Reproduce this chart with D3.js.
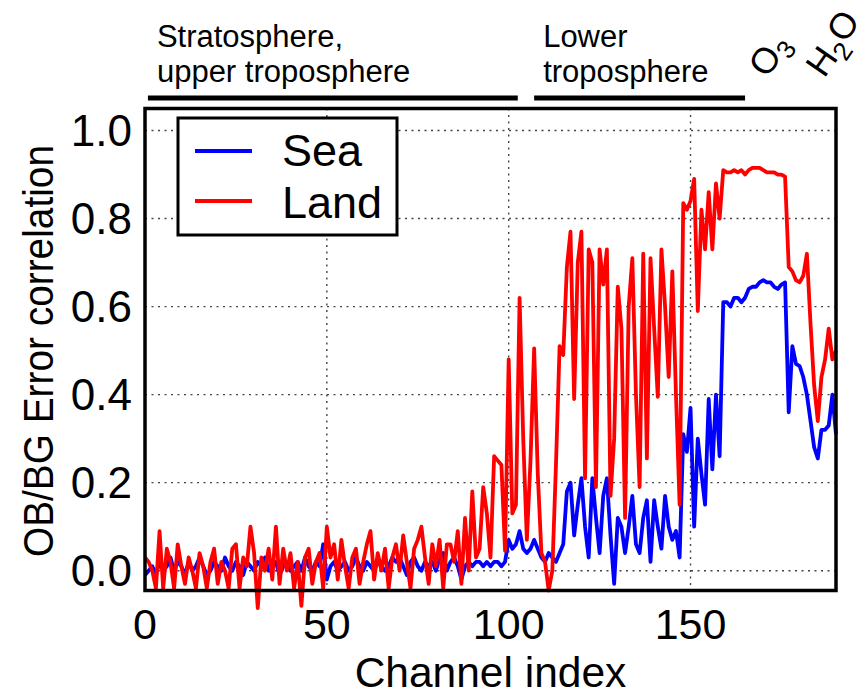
<!DOCTYPE html>
<html>
<head>
<meta charset="utf-8">
<script src="https://cdn.jsdelivr.net/npm/d3@7"></script>
<style>
  body { margin: 0; background: #fff; }
  text { font-family: "Liberation Sans", Arial, sans-serif; fill: #000; }
</style>
</head>
<body>
<script>
// channel index 0..190
let channels = d3.range(0, 191);

let sea = [
  -0.01, 0.0, 0.01, -0.01, 0.02, 0.0, 0.01, 0.03, 0.0, 0.02,
  0.01, -0.01, 0.02, 0.0, 0.01, 0.03, 0.01, -0.01, 0.0, 0.02,
  0.01, 0.0, 0.03, 0.01, 0.0, 0.02, 0.01, -0.01, 0.02, 0.01,
  0.0, 0.02, 0.01, 0.03, 0.0, 0.01, 0.02, -0.01, 0.01, 0.02,
  0.0, 0.01, 0.02, 0.0, 0.03, 0.01, 0.0, 0.02, 0.01, 0.06,
  -0.02, 0.01, 0.02, 0.0, 0.01, 0.02, 0.0, 0.01, 0.03, 0.01,
  0.0, 0.02, 0.01, 0.0, 0.02, 0.01, 0.0, 0.01, 0.03, 0.02,
  0.03, 0.01, -0.01, 0.02, 0.03, 0.01, 0.0, 0.02, 0.01, 0.02,
  0.0, 0.03, 0.04, 0.0, 0.02, 0.03, 0.01, -0.02, 0.01, 0.02,
  0.01, 0.02, 0.02, 0.01, 0.02, 0.01, 0.02, 0.02, 0.01, 0.02,
  0.07, 0.05, 0.06, 0.09, 0.05, 0.04, 0.05, 0.07, 0.05, 0.03,
  0.02, 0.04, 0.03, 0.02, 0.04, 0.06, 0.18, 0.20, 0.08, 0.15,
  0.21, 0.10, 0.03, 0.21, 0.12, 0.04, 0.17, 0.21, 0.08, -0.03,
  0.12, 0.10, 0.04, 0.10, 0.17, 0.06, 0.04, 0.12, 0.16, 0.02,
  0.16, 0.10, 0.05, 0.17, 0.10, 0.07, 0.09, 0.03, 0.31, 0.27,
  0.37, 0.10, 0.30, 0.22, 0.15, 0.39, 0.23, 0.40, 0.26, 0.61,
  0.61, 0.60, 0.62, 0.62, 0.61, 0.62, 0.64, 0.645, 0.645, 0.655,
  0.66, 0.655, 0.655, 0.645, 0.64, 0.65, 0.655, 0.36, 0.51, 0.47,
  0.465, 0.44, 0.40, 0.34, 0.28, 0.255, 0.32, 0.32, 0.33, 0.40,
  0.31
];

let land = [
  0.03, 0.02, 0.0, -0.04, 0.09, -0.04, 0.05, 0.02, -0.04, 0.06,
  0.01, -0.03, 0.03, 0.0, -0.04, 0.04, 0.01, -0.04, 0.02, 0.05,
  -0.03, 0.02, 0.0, -0.04, 0.05, 0.06, -0.04, 0.03, 0.01, 0.10,
  0.04, -0.085, 0.03, 0.0, 0.05, -0.02, 0.10, -0.03, 0.05, 0.0,
  0.04, -0.04, 0.02, -0.08, 0.03, 0.05, -0.03, 0.02, 0.04, -0.04,
  0.10, 0.03, 0.06, -0.02, 0.07, 0.01, -0.04, 0.03, 0.05, -0.03,
  0.02, 0.06, 0.09, -0.02, 0.04, 0.0, 0.05, -0.04, 0.03, 0.06,
  0.0, 0.08, 0.02, -0.04, 0.05, 0.07, 0.10, 0.03, -0.03, 0.06,
  0.01, 0.07, -0.04, 0.06, 0.06, 0.02, 0.09, -0.03, 0.12, 0.0,
  0.18, 0.03, 0.05, 0.19, 0.13, 0.03, 0.26, 0.25, 0.24, 0.045,
  0.48, 0.13, 0.15, 0.62, 0.30, 0.07, 0.25, 0.505, 0.22, 0.04,
  0.02, -0.045, 0.0, 0.24, 0.51, 0.49, 0.69, 0.77, 0.39, 0.70,
  0.77, 0.21, 0.73, 0.70, 0.19, 0.73, 0.65, 0.73, 0.17, 0.30,
  0.645, 0.55, 0.12, 0.60, 0.71, 0.40, 0.19, 0.72, 0.255, 0.71,
  0.55, 0.395, 0.73, 0.60, 0.44, 0.68, 0.40, 0.15, 0.835, 0.82,
  0.84, 0.89, 0.59, 0.82, 0.73, 0.86, 0.73, 0.88, 0.80, 0.91,
  0.905, 0.905, 0.91, 0.905, 0.91, 0.90, 0.91, 0.915, 0.915, 0.915,
  0.91, 0.905, 0.905, 0.905, 0.90, 0.90, 0.895, 0.69, 0.68, 0.66,
  0.655, 0.67, 0.72, 0.56, 0.42, 0.34, 0.44, 0.48, 0.55, 0.48,
  0.50
];

let xTicks = [0, 50, 100, 150];
let yTicks = [0.0, 0.2, 0.4, 0.6, 0.8, 1.0];

// bands drawn above the plot (channel ranges)
let bandNames = [["Stratosphere,", "upper troposphere"], ["Lower", "troposphere"]];
let bandFrom = [0.8, 107];
let bandTo = [102.5, 165];

// gas labels at the top right
let gasNames = [["O", "3"], ["H", "2", "O"]];
let gasAt = [171, 186.8];

let w = 867, h = 696;

let svg = d3.select('body')
    .append('svg')
    .attr('width', w)
    .attr('height', h);

let x = d3.scaleLinear()
    .domain([0, 190])
    .range([145, 836]);

let y = d3.scaleLinear()
    .domain([-0.045, 1.05])
    .range([590.5, 108.5]);

// grid
let grid = svg.append('g')
    .attr('stroke', '#444')
    .attr('stroke-width', 1.4)
    .attr('stroke-dasharray', '2,4.5');

grid.selectAll('.hg')
    .data(yTicks)
    .enter()
    .append('line')
    .attr('x1', x(0)).attr('x2', x(190))
    .attr('y1', d => y(d)).attr('y2', d => y(d));

grid.selectAll('.vg')
    .data(xTicks.filter(d => d > 0))
    .enter()
    .append('line')
    .attr('x1', d => x(d)).attr('x2', d => x(d))
    .attr('y1', y(1.05)).attr('y2', y(-0.045));

// lines
let line = d3.line()
    .x((d, i) => x(channels[i]))
    .y(d => y(d));

svg.append('path')
    .datum(sea)
    .attr('d', line)
    .attr('fill', 'none')
    .attr('stroke', '#0000ff')
    .attr('stroke-width', 3.8)
    .attr('stroke-linejoin', 'round');

svg.append('path')
    .datum(land)
    .attr('d', line)
    .attr('fill', 'none')
    .attr('stroke', '#ff0000')
    .attr('stroke-width', 3.8)
    .attr('stroke-linejoin', 'round');

// frame
svg.append('rect')
    .attr('x', x(0))
    .attr('y', y(1.05))
    .attr('width', x(190) - x(0))
    .attr('height', y(-0.045) - y(1.05))
    .attr('fill', 'none')
    .attr('stroke', '#000')
    .attr('stroke-width', 3.5);

// tick labels
svg.selectAll('.xt')
    .data(xTicks)
    .enter()
    .append('text')
    .attr('x', d => x(d))
    .attr('y', 639)
    .attr('text-anchor', 'middle')
    .style('font-size', '43px')
    .text(d => d);

svg.selectAll('.yt')
    .data(yTicks)
    .enter()
    .append('text')
    .attr('x', 132)
    .attr('y', d => y(d) + 15)
    .attr('text-anchor', 'end')
    .style('font-size', '44px')
    .text(d => d3.format('.1f')(d));

// axis titles
svg.append('text')
    .attr('x', (x(0) + x(190)) / 2)
    .attr('y', 687)
    .attr('text-anchor', 'middle')
    .style('font-size', '42.5px')
    .text('Channel index');

svg.append('text')
    .attr('transform', `translate(53,351) rotate(-90)`)
    .attr('text-anchor', 'middle')
    .attr('textLength', 412)
    .attr('lengthAdjust', 'spacingAndGlyphs')
    .style('font-size', '42px')
    .text('OB/BG Error correlation');

// legend
let legend = svg.append('g');
legend.append('rect')
    .attr('x', 178).attr('y', 118)
    .attr('width', 219).attr('height', 117)
    .attr('fill', '#fff')
    .attr('stroke', '#000')
    .attr('stroke-width', 3);

let legendNames = ['Sea', 'Land'];
let legendColors = ['#0000ff', '#ff0000'];
legendNames.forEach((name, i) => {
    legend.append('line')
        .attr('x1', 195).attr('x2', 252)
        .attr('y1', 151 + i * 50).attr('y2', 151 + i * 50)
        .attr('stroke', legendColors[i])
        .attr('stroke-width', 3.8);
    legend.append('text')
        .attr('x', 282)
        .attr('y', 166 + i * 52)
        .style('font-size', '45px')
        .text(name);
});

// bands above the plot
bandNames.forEach((names, i) => {
    svg.append('rect')
        .attr('x', x(bandFrom[i]))
        .attr('y', 95.5)
        .attr('width', x(bandTo[i]) - x(bandFrom[i]))
        .attr('height', 5)
        .attr('fill', '#000');
    names.forEach((t, j) => {
        svg.append('text')
            .attr('x', x(bandFrom[i]) + 9)
            .attr('y', 47 + j * 35)
            .style('font-size', '31px')
            .text(t);
    });
});

// gas labels
gasNames.forEach((parts, i) => {
    let t = svg.append('text')
        .attr('transform', `translate(${x(gasAt[i])},79) rotate(-55)`)
        .style('font-size', '36px');
    parts.forEach((p, j) => {
        let sub = /\d/.test(p);
        let prevSub = j > 0 && /\d/.test(parts[j - 1]);
        t.append('tspan')
            .attr('dy', sub ? '0.3em' : (prevSub ? '-0.3em' : 0))
            .style('font-size', sub ? '26px' : '36px')
            .text(p);
    });
});
</script>
</body>
</html>
